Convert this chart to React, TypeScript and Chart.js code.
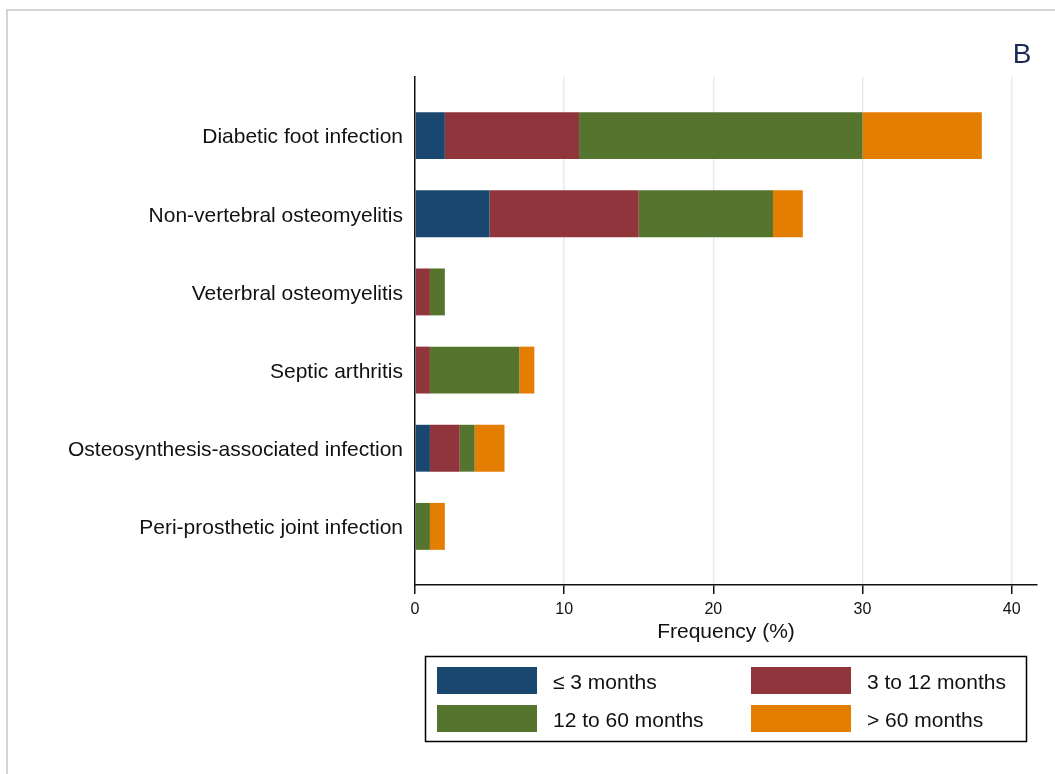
import React, { useEffect, useRef } from "react";
import { Chart, registerables } from "chart.js";

Chart.register(...registerables);

const categories = [
  "Diabetic foot infection",
  "Non-vertebral osteomyelitis",
  "Veterbral osteomyelitis",
  "Septic arthritis",
  "Osteosynthesis-associated infection",
  "Peri-prosthetic joint infection",
];

const seriesLabels = ["\u2264 3 months", "3 to 12 months", "12 to 60 months", "> 60 months"];
const seriesColors = ["#1a476f", "#90353b", "#55752f", "#e37e00"];

const upTo3 = [2, 5, 0, 0, 1, 0];
const from3to12 = [9, 10, 1, 1, 2, 0];
const from12to60 = [19, 9, 1, 6, 1, 1];
const over60 = [8, 2, 0, 1, 2, 1];

const xTicks = [0, 10, 20, 30, 40];
const panelLabel = "B";
const xTitle = "Frequency (%)";

const FONT = "'Liberation Sans', Arial, Helvetica, sans-serif";

const allSeries = [upTo3, from3to12, from12to60, over60];

const decorPlugin = {
  id: "decor",
  beforeDraw(chart: any) {
    const ctx = chart.ctx;
    ctx.save();
    ctx.fillStyle = "#ffffff";
    ctx.fillRect(0, 0, chart.width, chart.height);
    ctx.strokeStyle = "#d4d4d4";
    ctx.lineWidth = 2;
    ctx.beginPath();
    ctx.moveTo(7, chart.height);
    ctx.lineTo(7, 10);
    ctx.lineTo(chart.width, 10);
    ctx.stroke();
    ctx.restore();
  },
  afterDraw(chart: any) {
    const ctx = chart.ctx;
    ctx.save();
    // panel label
    ctx.fillStyle = "#1c2b55";
    ctx.font = `28px ${FONT}`;
    ctx.textAlign = "center";
    ctx.textBaseline = "middle";
    ctx.fillText(panelLabel, 1022, 55);

    // legend box
    ctx.strokeStyle = "#000";
    ctx.lineWidth = 1.5;
    ctx.strokeRect(425.5, 656.5, 601, 85);
    const colX = [437, 751];
    const rowY = [667, 705];
    ctx.font = `21px ${FONT}`;
    ctx.textAlign = "left";
    ctx.textBaseline = "middle";
    chart.data.datasets.forEach((ds: any, i: number) => {
      const c = i % 2;
      const r = Math.floor(i / 2);
      ctx.fillStyle = ds.backgroundColor;
      ctx.fillRect(colX[c], rowY[r], 100, 27);
      ctx.fillStyle = "#111";
      ctx.fillText(ds.label, colX[c] + 116, rowY[r] + 16);
    });
    ctx.restore();
  },
};

export default function App() {
  const ref = useRef<HTMLCanvasElement | null>(null);

  useEffect(() => {
    if (!ref.current) return;
    const chart = new Chart(ref.current, {
      type: "bar",
      data: {
        datasets: allSeries.map((vals, i) => ({
          label: seriesLabels[i],
          backgroundColor: seriesColors[i],
          borderWidth: 0,
          data: vals.map((v, j) => ({ x: v, y: j })),
          barPercentage: 0.6,
          categoryPercentage: 1,
        })),
      },
      options: {
        indexAxis: "y",
        animation: false,
        responsive: false,
        maintainAspectRatio: false,
        layout: { padding: { left: 0, top: 77, right: 18, bottom: 119 } },
        plugins: {
          legend: { display: false },
          tooltip: { enabled: false },
          title: { display: false },
        },
        scales: {
          x: {
            type: "linear",
            stacked: true,
            offset: false,
            min: 0,
            max: 41.7,
            afterFit: (s: any) => {
              s.height = 70;
            },
            afterBuildTicks: (s: any) => {
              s.ticks = xTicks.map((v) => ({ value: v }));
            },
            ticks: {
              font: { family: FONT, size: 16 },
              color: "#111",
              padding: 6,
              maxRotation: 0,
              autoSkip: false,
            },
            grid: {
              offset: false,
              color: (c: any) => (c.tick && c.tick.value === 0 ? "rgba(0,0,0,0)" : "#e3edf1"),
              lineWidth: 1.5,
              tickColor: "#111",
              tickLength: 9,
              tickWidth: 1.5,
            },
            border: { display: true, color: "#111", width: 1.5, z: 1 },
            title: {
              display: true,
              text: xTitle,
              font: { family: FONT, size: 21 },
              color: "#111",
              padding: { top: 0, bottom: 10 },
            },
          },
          y: {
            type: "linear",
            stacked: true,
            reverse: true,
            offset: false,
            min: -0.75,
            max: 5.75,
            afterFit: (s: any) => {
              s.width = 415;
            },
            afterBuildTicks: (s: any) => {
              s.ticks = categories.map((_, i) => ({ value: i }));
            },
            ticks: {
              autoSkip: false,
              font: { family: FONT, size: 21 },
              color: "#111",
              padding: 12,
              labelOffset: 2,
              callback: (v: any) => categories[Math.round(Number(v))] ?? "",
            },
            grid: { display: true, offset: false, drawOnChartArea: false, drawTicks: false },
            border: { display: true, color: "#111", width: 1.5, z: 1 },
          },
        },
      },
      plugins: [decorPlugin],
    } as any);
    return () => chart.destroy();
  }, []);

  return (
    <div style={{ position: "fixed", left: 0, top: 0, width: 1055, height: 774 }}>
      <canvas ref={ref} width={1055} height={774} style={{ display: "block", width: 1055, height: 774 }} />
    </div>
  );
}
